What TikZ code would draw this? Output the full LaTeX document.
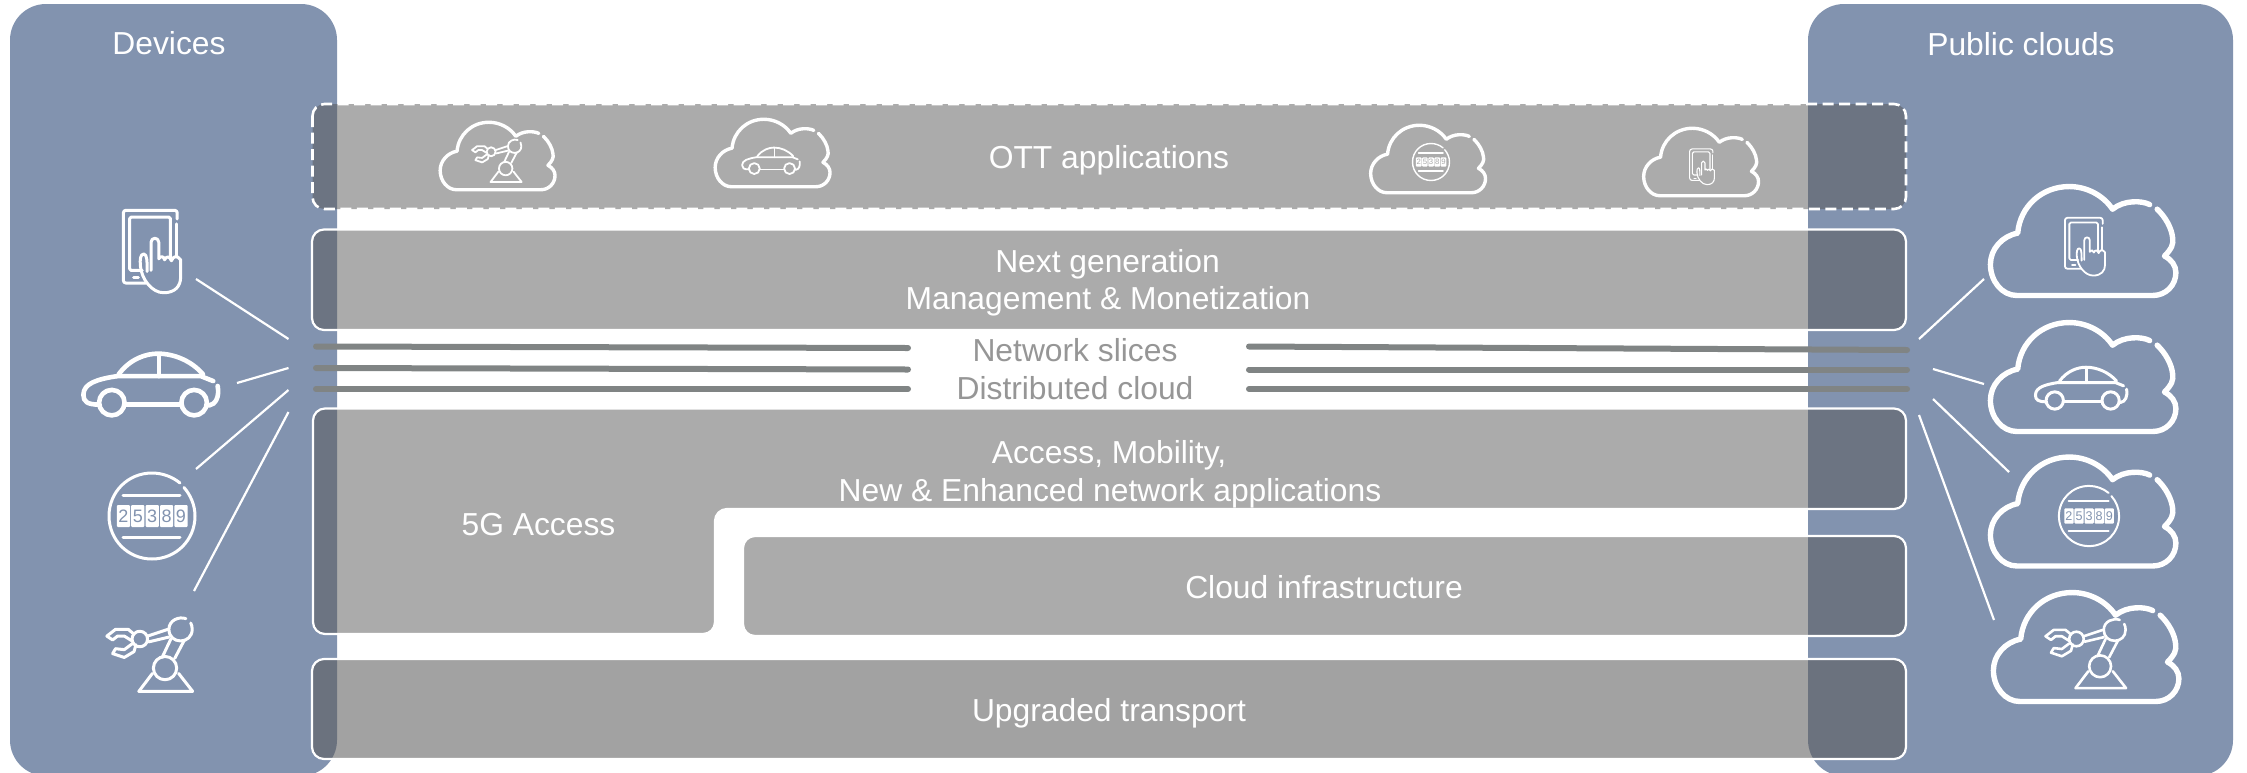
\documentclass[tikz,border=0pt]{standalone}
\usepackage{fontspec}
\setmainfont{Liberation Sans}
\definecolor{panelblue}{HTML}{8293AF}
\definecolor{barfill}{HTML}{575757}
\definecolor{transfill}{HTML}{595959}
\definecolor{sliceline}{HTML}{808484}
\definecolor{barbg}{HTML}{ABABAB}
\definecolor{slicetext}{HTML}{969696}
\tikzset{
  panel/.style={fill=panelblue,draw=none,rounded corners=36pt},
  barshape/.style={fill=barfill,fill opacity=.5,draw=white,draw opacity=1,line width=2.2pt,rounded corners=12pt},
  transshape/.style={fill=transfill,fill opacity=.56,draw=white,draw opacity=1,line width=2.2pt,rounded corners=12pt},
  dashshape/.style={barshape,dash pattern=on 11pt off 5.5pt,line width=2.6pt},
  sliceseg/.style={draw=sliceline,line width=6pt,line cap=round},
  link/.style={draw=white,line width=2.2pt},
  labeltxt/.style={text=white,font=\fontsize{31.8}{32}\selectfont,anchor=base,inner sep=0pt},
  slicetxt/.style={labeltxt,text=slicetext},
  icon/.style={draw=white,line cap=round,line join=round},
  pics/cloudpic/.style={code={
    \draw[icon] (67.7,-37) .. controls (60,-41) and (42,-42) .. (30,-32.3)
      .. controls (20,-47) and (3,-55.3) .. (-14,-55.3)
      .. controls (-42,-55.3) and (-64,-35) .. (-66.3,-8)
      .. controls (-82,-5) and (-94,8) .. (-94,23.7)
      .. controls (-94,41) and (-82,55.3) .. (-67.3,55.3)
      -- (71,55.3) .. controls (84,55.3) and (94.3,45) .. (94.3,32)
      .. controls (94.3,25) and (90,19) .. (82.7,15.3)
      .. controls (90,8) and (92,3) .. (91,-3)
      .. controls (90,-13) and (84,-24) .. (75.3,-32.3);
  }},
  pics/tabletpic/.style={code={
    \draw[icon,rounded corners=2.5pt] (26,-34) -- (26,-43) -- (-29.5,-43) -- (-29.5,32) -- (-6,32);
    \draw[icon] (25.5,-29) -- (25.5,5);
    \draw[icon,rounded corners=1.5pt] (19,6) -- (19,-36) -- (-23,-36) -- (-23,19) -- (-10,19);
    \draw[icon] (-19,26.5) -- (-14,26.5);
    \draw[icon] (-5,20) .. controls (-5,10) and (-5,2) .. (-8.5,2)
      .. controls (-12,2) and (-12.5,8) .. (-12,14)
      .. controls (-11,28) and (0,42) .. (12,42)
      .. controls (24,42) and (29.5,35) .. (29.5,26) -- (29.5,8)
      .. controls (26,3) and (22,4) .. (20,9)
      .. controls (18,4) and (15,4) .. (13,8)
      .. controls (12,4) and (9,4) .. (7,7)
      -- (7,-10) .. controls (7,-15.5) and (-1,-15.5) .. (-1,-10) -- (-1,19);
  }},
  pics/carpic/.style={code={
    \draw[icon] (-34,-11) .. controls (-22,-27) and (-6,-32) .. (6,-32)
      .. controls (22,-32) and (40,-25) .. (52,-11);
    \draw[icon] (7,-31) -- (7,-9);
    \draw[icon] (-36,-9) .. controls (-55,-6) and (-70,-2) .. (-70,10)
      .. controls (-70,17) and (-66,20) .. (-54,20);
    \draw[icon] (-36,-9) -- (50,-9) -- (62.5,-4);
    \draw[icon] (-28,20) -- (30,20);
    \draw[icon] (56,20) -- (58,21) .. controls (65,20) and (69,12) .. (67,1);
    \draw[icon] (-41,18) circle[radius=13];
    \draw[icon] (43,18) circle[radius=13];
  }},
  pics/meterpic/.style={code={
    \draw[icon] (28,-33) .. controls (20,-39.5) and (10,-43) .. (0,-43)
      .. controls (-24,-43) and (-43,-24) .. (-43,0)
      .. controls (-43,24) and (-24,43) .. (0,43)
      .. controls (24,43) and (43,24) .. (43,0)
      .. controls (43,-11) and (38.5,-21) .. (32,-28.5);
    \draw[icon] (-29,-21) -- (28,-21);
    \draw[icon] (-29,21) -- (28,21);
    \foreach \i/\d in {0/2,1/5,2/3,3/8,4/9}{
      \node[fill=white,rounded corners=1pt,minimum width=13.2pt,minimum height=22pt,inner sep=0pt,
        text=#1,transform shape,font=\fontsize{18}{18}\selectfont] (dig\i) at (-28.6+\i*14.4,0) {\d};
    }
  }},
  pics/robotpic/.style={code={
    \draw[icon] (37,-37.5) .. controls (30,-40) and (19.5,-36) .. (19.5,-26.5)
      .. controls (19.5,-19) and (25,-14.5) .. (31.5,-14.5)
      .. controls (38,-14.5) and (43.5,-19) .. (43.5,-26.5)
      .. controls (43.5,-29) and (43,-31) .. (42,-33);
    \draw[icon] (15.5,13.5) circle[radius=12];
    \draw[icon] (-10.5,-16.5) circle[radius=8];
    \draw[icon] (-11.5,37.5) -- (44,37.5) -- (29.5,19);
    \draw[icon] (-11.5,37.5) -- (2.5,19);
    \draw[icon] (12.5,2.5) -- (21.5,-16.5);
    \draw[icon] (25.5,3.5) -- (35.5,-15.5);
    \draw[icon] (-2.5,-19.5) -- (18.5,-26.5);
    \draw[icon] (-1.5,-13.5) -- (19.5,-18.5);
    \draw[icon] (-16.5,-21.5) -- (-22.5,-26.5) -- (-35.5,-26.5) -- (-44.5,-19.5) -- (-38.5,-15.5) -- (-33.5,-19.5) -- (-26.5,-19.5) -- (-18.5,-14.5);
    \draw[icon] (-14.5,-10.5) -- (-16.5,-3.5) -- (-26.5,2.5) -- (-38.5,-1.5) -- (-35.5,-6.5) -- (-26.5,-5.5) -- (-18.5,-11.5);
  }}
}
\begin{document}
\begin{tikzpicture}[x=1pt,y=-1pt]
\useasboundingbox (0,0) rectangle (2247,772);
% side panels
\fill[panel] (10,4) rectangle (337,776);
\fill[panel] (1808,4) rectangle (2233,776);
% layer bars
\path[barshape,dashshape] (312.5,104) rectangle (1906,209);
\path[barshape] (312,229.5) rectangle (1906,330);
\path[barshape] (313,408.5) -- (1906,408.5) -- (1906,509) -- (715,509) -- (715,634) -- (313,634) -- cycle;
\path[barshape] (743,536) rectangle (1906,636);
\path[transshape] (312,659) rectangle (1906,759);
% network slice segments
\coordinate (sl1a) at (316,346.5); \coordinate (sl1b) at (908,348);
\coordinate (sl2a) at (316,368);   \coordinate (sl2b) at (908,369.5);
\coordinate (sl3a) at (316,389);   \coordinate (sl3b) at (908,389);
\coordinate (sr1a) at (1249,346.5);\coordinate (sr1b) at (1907,350);
\coordinate (sr2a) at (1249,369.5);\coordinate (sr2b) at (1907,369.5);
\coordinate (sr3a) at (1249,389);  \coordinate (sr3b) at (1907,389);
\foreach \s in {sl1,sl2,sl3,sr1,sr2,sr3}{\draw[sliceseg] (\s a) -- (\s b);}
% connectors
\coordinate (la1) at (196,279); \coordinate (lb1) at (288.5,339);
\coordinate (la2) at (237,383); \coordinate (lb2) at (288.5,368);
\coordinate (la3) at (196,469); \coordinate (lb3) at (288.5,390);
\coordinate (la4) at (194,591); \coordinate (lb4) at (288.5,412);
\coordinate (ra1) at (1984,279); \coordinate (rb1) at (1919,339);
\coordinate (ra2) at (1984,384); \coordinate (rb2) at (1933,369);
\coordinate (ra3) at (2009,472); \coordinate (rb3) at (1933,399);
\coordinate (ra4) at (1994,620); \coordinate (rb4) at (1919,415);
\foreach \k in {1,2,3,4}{
  \draw[link] (la\k) -- (lb\k);
  \draw[link] (ra\k) -- (rb\k);
}
% device icons
\pic[line width=3pt,scale=.97] at (152,252) {tabletpic};
\pic[line width=4.6pt,scale=.98] at (152,385) {carpic};
\pic[line width=3pt] at (152,516) {meterpic=panelblue};
\pic[line width=3pt,scale=.97] at (150,655) {robotpic};
% public clouds
\pic[line width=5.4pt,scale=.985] at (2083,241) {cloudpic};
\pic[line width=5.4pt,scale=.985] at (2083,377) {cloudpic};
\pic[line width=5.4pt,scale=.985] at (2083,511.5) {cloudpic};
\pic[line width=5.4pt,scale=.985] at (2086,647) {cloudpic};
\pic[line width=1.8pt,scale=.68] at (2085,247) {tabletpic};
\pic[line width=3pt,scale=.665] at (2082,388.5) {carpic};
\pic[line width=2pt,scale=.7] at (2089,516) {meterpic=panelblue};
\pic[line width=2.6pt,scale=.91] at (2086,654) {robotpic};
% OTT clouds
\pic[line width=3.4pt,scale=.61] at (497.5,156) {cloudpic};
\pic[line width=3.4pt,scale=.61] at (772.5,153) {cloudpic};
\pic[line width=3.4pt,scale=.61] at (1428,159) {cloudpic};
\pic[line width=3.4pt,scale=.61] at (1701,162) {cloudpic};
\pic[line width=1.8pt,scale=.56] at (497,161) {robotpic};
\pic[line width=1.8pt,scale=.42] at (771.5,161) {carpic};
\pic[line width=1.4pt,scale=.43] at (1431,162) {meterpic=barbg};
\pic[line width=1.1pt,scale=.42] at (1702,167) {tabletpic};
% labels
\node[labeltxt] (devices) at (169,54) {Devices};
\node[labeltxt] (public) at (2021,55) {Public clouds};
\node[labeltxt] (ott) at (1109,168) {OTT applications};
\node[labeltxt] (next1) at (1107.5,272) {Next generation};
\node[labeltxt] (next2) at (1108,309.5) {Management \& Monetization};
\node[slicetxt] (slices) at (1075,361) {Network slices};
\node[slicetxt] (distr) at (1075,399) {Distributed cloud};
\node[labeltxt] (acc1) at (1109,463) {Access, Mobility,};
\node[labeltxt] (acc2) at (1110,501) {New \& Enhanced network applications};
\node[labeltxt] (fivegee) at (538.5,535) {5G Access};
\node[labeltxt] (cloudinf) at (1324,598) {Cloud infrastructure};
\node[labeltxt] (transport) at (1109,721) {Upgraded transport};
\end{tikzpicture}
\end{document}
